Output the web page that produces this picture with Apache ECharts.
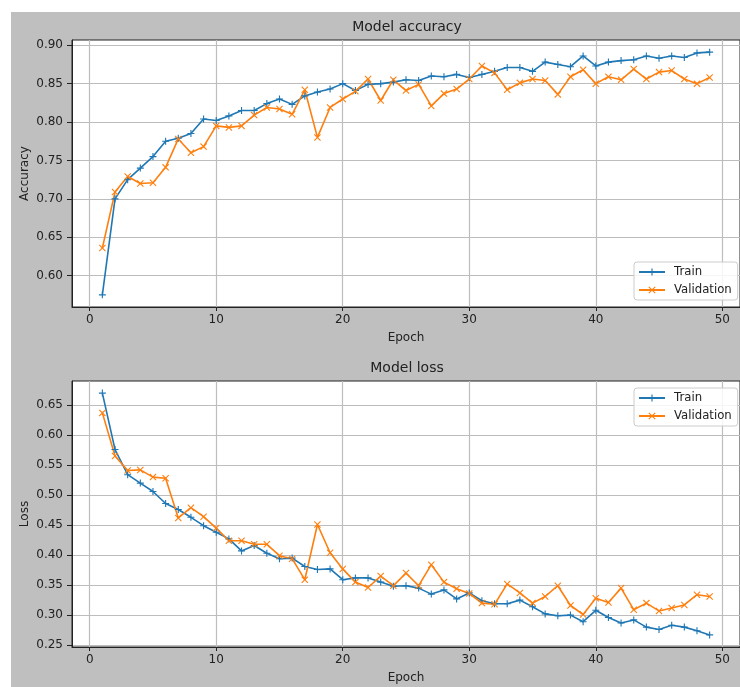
<!DOCTYPE html>
<html>
<head>
<meta charset="utf-8">
<script src="https://cdn.jsdelivr.net/npm/echarts@6/dist/echarts.min.js"></script>
<style>
  html, body { margin: 0; background: #fff; }
  #wrap { position: relative; width: 740px; height: 687px; overflow: hidden; }
  #bg { position: absolute; left: 11px; top: 12px; right: 0; bottom: 0; background: #bfbfbf; }
  #main { position: absolute; left: 0; top: 0; width: 740px; height: 687px; }
</style>
</head>
<body>
<div id="wrap">
  <div id="bg"></div>
  <div id="main"></div>
</div>
<script>
// 训练记录 (epoch 1..49)
const epochs = [1, 2, 3, 4, 5, 6, 7, 8, 9, 10, 11, 12, 13, 14, 15, 16, 17, 18, 19, 20,
  21, 22, 23, 24, 25, 26, 27, 28, 29, 30, 31, 32, 33, 34, 35, 36, 37, 38, 39, 40,
  41, 42, 43, 44, 45, 46, 47, 48, 49]

const trainAcc = [0.575, 0.700, 0.725, 0.740, 0.755, 0.775, 0.779, 0.785, 0.804, 0.802,
  0.808, 0.815, 0.815, 0.824, 0.830, 0.823, 0.834, 0.839, 0.843, 0.850,
  0.841, 0.849, 0.850, 0.852, 0.855, 0.854, 0.860, 0.859, 0.862, 0.858,
  0.862, 0.866, 0.871, 0.871, 0.866, 0.878, 0.875, 0.872, 0.886, 0.873,
  0.878, 0.880, 0.881, 0.886, 0.883, 0.886, 0.884, 0.890, 0.891]
const valAcc = [0.636, 0.709, 0.729, 0.720, 0.721, 0.741, 0.778, 0.760, 0.768, 0.795,
  0.793, 0.795, 0.809, 0.819, 0.817, 0.810, 0.842, 0.780, 0.819, 0.830,
  0.840, 0.856, 0.828, 0.855, 0.841, 0.849, 0.821, 0.837, 0.843, 0.856,
  0.873, 0.864, 0.842, 0.851, 0.856, 0.854, 0.836, 0.859, 0.868, 0.850,
  0.859, 0.855, 0.869, 0.856, 0.865, 0.867, 0.856, 0.850, 0.858]

const trainLoss = [0.670, 0.576, 0.534, 0.520, 0.506, 0.486, 0.476, 0.463, 0.449, 0.438,
  0.427, 0.407, 0.416, 0.403, 0.394, 0.395, 0.381, 0.376, 0.377, 0.359,
  0.362, 0.362, 0.355, 0.348, 0.349, 0.345, 0.335, 0.342, 0.327, 0.337,
  0.324, 0.319, 0.319, 0.325, 0.314, 0.302, 0.299, 0.300, 0.289, 0.308,
  0.296, 0.287, 0.292, 0.280, 0.276, 0.283, 0.280, 0.274, 0.267]
const valLoss = [0.637, 0.565, 0.541, 0.542, 0.530, 0.528, 0.462, 0.479, 0.464, 0.445,
  0.424, 0.424, 0.418, 0.418, 0.399, 0.394, 0.359, 0.451, 0.404, 0.377,
  0.355, 0.346, 0.365, 0.349, 0.370, 0.349, 0.384, 0.355, 0.344, 0.336,
  0.320, 0.318, 0.352, 0.337, 0.320, 0.331, 0.349, 0.316, 0.301, 0.328,
  0.321, 0.345, 0.309, 0.320, 0.307, 0.312, 0.317, 0.334, 0.331]

const xTicks = [0, 10, 20, 30, 40, 50]
const accTicks = [0.60, 0.65, 0.70, 0.75, 0.80, 0.85, 0.90]
const lossTicks = [0.25, 0.30, 0.35, 0.40, 0.45, 0.50, 0.55, 0.60, 0.65]

const FONT = 'DejaVu Sans'
const INK = '#222'
const BLUE = '#1f77b4'
const ORANGE = '#ff7f0e'
const PLUS = 'path://M42,0H58V42H100V58H58V100H42V58H0V42H42Z'
const CROSS = 'path://M0,11L11,0L50,39L89,0L100,11L61,50L100,89L89,100L50,61L11,100L0,89L39,50Z'

// matplotlib 默认 5% 边距
function padded(arr) {
  const lo = Math.min(...arr), hi = Math.max(...arr)
  const m = (hi - lo) * 0.05
  return [lo - m, hi + m]
}
const xExt = padded(epochs)
const accExt = padded(trainAcc.concat(valAcc))
const lossExt = padded(trainLoss.concat(valLoss))

function xAxis(gi) {
  return {
    type: 'value', gridIndex: gi, min: xExt[0], max: xExt[1],
    name: 'Epoch', nameLocation: 'middle', nameGap: 25, nameMoveOverlap: false,
    nameTextStyle: { fontFamily: FONT, fontSize: 12, color: INK },
    axisLine: { show: true, onZero: false, lineStyle: { color: INK, width: 1 } },
    axisTick: { show: true, customValues: xTicks, length: 4, lineStyle: { color: INK } },
    axisLabel: { customValues: xTicks, fontFamily: FONT, fontSize: 12, color: INK, margin: 7 },
    splitLine: { show: true, lineStyle: { color: '#bdbdbd', width: 1.2 } },
  }
}
function yAxis(gi, ext, ticks, name) {
  return {
    type: 'value', gridIndex: gi, min: ext[0], max: ext[1],
    name: name, nameLocation: 'middle', nameGap: 41, nameMoveOverlap: false,
    nameTextStyle: { fontFamily: FONT, fontSize: 12, color: INK },
    axisLine: { show: true, onZero: false, lineStyle: { color: INK, width: 1 } },
    axisTick: { show: true, customValues: ticks, length: 5, lineStyle: { color: INK } },
    axisLabel: {
      customValues: ticks, fontFamily: FONT, fontSize: 12, color: INK, margin: 9,
      formatter: (v) => v.toFixed(2),
    },
    splitLine: { show: true, lineStyle: { color: '#bdbdbd', width: 1.2 } },
  }
}
function lineSeries(name, gi, ys, color, symbol) {
  return {
    name: name, type: 'line', xAxisIndex: gi, yAxisIndex: gi,
    data: epochs.map((e, i) => [e, ys[i]]),
    symbol: symbol, symbolSize: 7, showSymbol: true,
    lineStyle: { color: color, width: 1.6 },
    itemStyle: { color: color },
    emphasis: { disabled: true },
  }
}
function legend(top) {
  return {
    orient: 'vertical', left: 634, top: top, selectedMode: false,
    data: ['Train', 'Validation'],
    backgroundColor: 'rgba(255,255,255,0.85)', borderColor: '#cccccc', borderWidth: 1, borderRadius: 3,
    padding: [4, 6, 4, 4], itemGap: 6, itemWidth: 26, itemHeight: 9,
    textStyle: { fontFamily: FONT, fontSize: 11.7, color: INK, padding: [0, 0, 0, 4] },
  }
}

let myChart = echarts.init(document.getElementById('main'))
let option = {
  animation: false,
  grid: [
    { left: 72, top: 40, width: 670, height: 267, show: true, backgroundColor: '#fff', borderColor: INK, borderWidth: 1 },
    { left: 72, top: 381, width: 670, height: 266, show: true, backgroundColor: '#fff', borderColor: INK, borderWidth: 1 },
  ],
  graphic: [
    { type: 'text', x: 407, y: 27, style: { text: 'Model accuracy', font: '14px ' + FONT, fill: INK, textAlign: 'center', textVerticalAlign: 'middle' } },
    { type: 'text', x: 407, y: 368, style: { text: 'Model loss', font: '14px ' + FONT, fill: INK, textAlign: 'center', textVerticalAlign: 'middle' } },
  ],
  legend: [legend(262), legend(388)],
  xAxis: [xAxis(0), xAxis(1)],
  yAxis: [yAxis(0, accExt, accTicks, 'Accuracy'), yAxis(1, lossExt, lossTicks, 'Loss')],
  series: [
    lineSeries('Train', 0, trainAcc, BLUE, PLUS),
    lineSeries('Validation', 0, valAcc, ORANGE, CROSS),
    lineSeries('Train', 1, trainLoss, BLUE, PLUS),
    lineSeries('Validation', 1, valLoss, ORANGE, CROSS),
  ],
}
myChart.setOption(option)
</script>
</body>
</html>
